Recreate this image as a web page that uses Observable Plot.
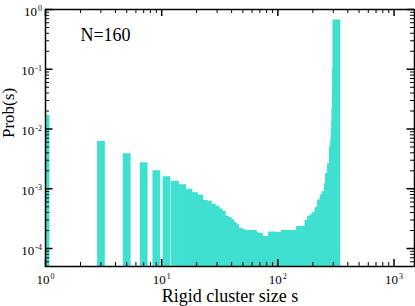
<!DOCTYPE html>
<html>
<head>
<meta charset="utf-8">
<script src="https://cdn.jsdelivr.net/npm/d3@7"></script>
<script src="https://cdn.jsdelivr.net/npm/@observablehq/plot@0.6"></script>
<style>
  html, body { margin: 0; padding: 0; background: #fff; }
</style>
</head>
<body>
<script>
// Rigid cluster sizes (odd sizes only appear in the histogram)
const sizes = [
  1, 3, 5, 7, 9, 11, 13, 15, 17, 19,
  21, 23, 25, 27, 29, 31, 33, 35, 37, 39,
  41, 43, 45, 47, 49, 51, 53, 55, 57, 59,
  61, 63, 65, 67, 69, 71, 73, 75, 77, 79,
  81, 83, 85, 87, 89, 91, 93, 95, 97, 99,
  101, 103, 105, 107, 109, 111, 113, 115, 117, 119,
  121, 123, 125, 127, 129, 131, 133, 135, 137, 139,
  141, 143, 145, 147, 149, 151, 153, 155, 157, 159,
  161, 163, 165, 167, 169, 171, 173, 175, 177, 179,
  181, 183, 185, 187, 189, 191, 193, 195, 197, 199,
  201, 203, 205, 207, 209, 211, 213, 215, 217, 219,
  221, 223, 225, 227, 229, 231, 233, 235, 237, 239,
  241, 243, 245, 247, 249, 251, 253, 255, 257, 259,
  261, 263, 265, 267, 269, 271, 273, 275, 277, 279,
  281, 283, 285, 287, 289, 291, 293, 295, 297, 299,
  301, 303, 305, 307, 309, 311, 313, 315, 317, 319
];
// Prob(s)
const prob = [
  1.69e-2, 6.2e-3, 3.86e-3, 2.73e-3, 2.0e-3, 1.59e-3, 1.33e-3, 1.17e-3, 9.8e-4, 8.6e-4,
  7.85e-4, 6.4e-4, 6.2e-4, 5.5e-4, 5.1e-4, 4.6e-4, 4.2e-4, 3.46e-4, 3.3e-4, 3.04e-4,
  2.7e-4, 2.5e-4, 2.2e-4, 2.12e-4, 2.05e-4, 2.0e-4, 2.0e-4, 2.0e-4, 2.0e-4, 2.0e-4,
  2.0e-4, 1.85e-4, 1.78e-4, 1.78e-4, 1.78e-4, 1.56e-4, 1.56e-4, 1.56e-4, 1.56e-4, 1.56e-4,
  1.56e-4, 1.56e-4, 1.56e-4, 1.56e-4, 1.89e-4, 1.82e-4, 1.82e-4, 1.82e-4, 1.82e-4, 1.82e-4,
  1.82e-4, 1.82e-4, 1.82e-4, 1.82e-4, 1.82e-4, 1.82e-4, 1.82e-4, 2.0e-4, 2.0e-4, 2.0e-4,
  2.0e-4, 2.0e-4, 2.0e-4, 2.0e-4, 2.0e-4, 2.0e-4, 2.0e-4, 2.0e-4, 2.0e-4, 2.0e-4,
  2.0e-4, 2.0e-4, 2.0e-4, 2.0e-4, 2.0e-4, 2.0e-4, 2.0e-4, 2.3e-4, 2.3e-4, 2.3e-4,
  2.3e-4, 2.3e-4, 2.3e-4, 2.3e-4, 2.3e-4, 2.3e-4, 2.3e-4, 2.3e-4, 2.3e-4, 2.3e-4,
  2.3e-4, 2.96e-4, 2.96e-4, 2.96e-4, 2.96e-4, 2.96e-4, 3.46e-4, 3.46e-4, 3.46e-4, 3.46e-4,
  3.46e-4, 3.46e-4, 3.46e-4, 3.46e-4, 3.9e-4, 3.9e-4, 3.9e-4, 3.9e-4, 3.9e-4, 3.9e-4,
  3.9e-4, 4.8e-4, 4.8e-4, 4.8e-4, 4.8e-4, 4.8e-4, 4.8e-4, 6.4e-4, 6.4e-4, 6.4e-4,
  6.4e-4, 6.4e-4, 6.4e-4, 7.8e-4, 7.8e-4, 7.8e-4, 7.8e-4, 7.8e-4, 8.8e-4, 8.8e-4,
  8.8e-4, 8.8e-4, 8.8e-4, 8.8e-4, 1.22e-3, 1.22e-3, 1.22e-3, 1.78e-3, 1.78e-3, 1.78e-3,
  1.78e-3, 1.78e-3, 1.78e-3, 2.6e-3, 2.6e-3, 2.6e-3, 2.6e-3, 2.6e-3, 5.0e-3, 5.0e-3,
  5.0e-3, 5.0e-3, 6.5e-3, 7.0e-3, 9.0e-3, 1.3e-2, 2.2e-2, 4.0e-2, 1.0e-1, 6.7e-1
];

const xDomain = [1, 1500];
const yDomain = [5e-5, 1];
const xMajor = [1, 10, 100, 1000];
const yMajor = [1e-4, 1e-3, 1e-2, 1e-1, 1];
const mult = [2, 3, 4, 5, 6, 7, 8, 9];
const xMinor = [1, 10, 100, 1000].flatMap(b => mult.map(m => m * b)).filter(v => v > xDomain[0] && v < xDomain[1]);
const yMinor = [1e-5, 1e-4, 1e-3, 1e-2, 1e-1].flatMap(b => mult.map(m => m * b)).filter(v => v >= yDomain[0] && v < yDomain[1]);
const label = "N=160";

const data = sizes.map((s, i) => ({s, p: prob[i]}));

const W = 415, H = 306;
const mt = 9, mr = 1, mb = 40, ml = 45;
const pw = W - ml - mr, ph = H - mt - mb;
const serif = "'Liberation Serif', 'Times New Roman', serif";
const barColor = "#40E0D0";
const fmt = d => "10^" + Math.round(Math.log10(d));

const svg = Plot.plot({
  width: W, height: H,
  marginTop: mt, marginRight: mr, marginBottom: mb, marginLeft: ml,
  style: {fontFamily: serif, fontSize: "13px", background: "#fff", color: "#000"},
  x: {type: "log", domain: xDomain},
  y: {type: "log", domain: yDomain},
  marks: [
    Plot.ruleX(data, {x: "s", y1: () => yDomain[0], y2: "p", stroke: barColor, strokeWidth: 7.8, clip: true}),
    // inward ticks on all four sides
    Plot.tickX(xMajor, {x: d => d, insetTop: ph - 7, stroke: "#000", strokeWidth: 1.5}),
    Plot.tickX(xMajor, {x: d => d, insetBottom: ph - 7, stroke: "#000", strokeWidth: 1.5}),
    Plot.tickX(xMinor, {x: d => d, insetTop: ph - 4, stroke: "#000", strokeWidth: 1}),
    Plot.tickX(xMinor, {x: d => d, insetBottom: ph - 4, stroke: "#000", strokeWidth: 1}),
    Plot.tickY(yMajor, {y: d => d, insetRight: pw - 7.5, stroke: "#000", strokeWidth: 1.5}),
    Plot.tickY(yMajor, {y: d => d, insetLeft: pw - 7.5, stroke: "#000", strokeWidth: 1.5}),
    Plot.tickY(yMinor, {y: d => d, insetRight: pw - 4, stroke: "#000", strokeWidth: 1}),
    Plot.tickY(yMinor, {y: d => d, insetLeft: pw - 4, stroke: "#000", strokeWidth: 1}),
    Plot.frame({stroke: "#000", strokeWidth: 1.5}),
    Plot.axisX({ticks: xMajor, tickSize: 0, tickPadding: 8, tickFormat: fmt, label: null, fontSize: 13, fill: "#000"}),
    Plot.axisY({ticks: yMajor, tickSize: 0, tickPadding: 3.5, dy: 2, tickFormat: fmt, label: null, fontSize: 13, fill: "#000"}),
    Plot.text([label], {x: () => 2, y: () => 0.3, text: d => d, textAnchor: "start", lineAnchor: "bottom", fontSize: 18, fill: "#000"}),
    Plot.text(["Rigid cluster size s"], {frameAnchor: "bottom", text: d => d, dy: 35, lineAnchor: "bottom", fontSize: 18, fill: "#000"}),
    Plot.text(["Prob(s)"], {frameAnchor: "left", text: d => d, rotate: -90, dx: -31.5, lineAnchor: "bottom", fontSize: 17, fill: "#000"})
  ]
});

// Render tick labels as 10 with a superscript exponent
const ns = "http://www.w3.org/2000/svg";
svg.querySelectorAll('g[aria-label="x-axis tick label"] text, g[aria-label="y-axis tick label"] text').forEach(t => {
  const str = t.textContent;
  if (!str.includes("^")) return;
  const [b, e] = str.split("^");
  t.textContent = "";
  t.style.fontVariant = "normal";
  t.style.fontFamily = serif;
  const t1 = document.createElementNS(ns, "tspan");
  t1.setAttribute("font-size", "13px");
  t1.textContent = b;
  const t2 = document.createElementNS(ns, "tspan");
  t2.setAttribute("font-size", "8px");
  t2.setAttribute("dy", "-4.5");
  t2.setAttribute("dx", "1");
  t2.textContent = e;
  t.appendChild(t1);
  t.appendChild(t2);
});

document.body.appendChild(svg);
</script>
</body>
</html>
